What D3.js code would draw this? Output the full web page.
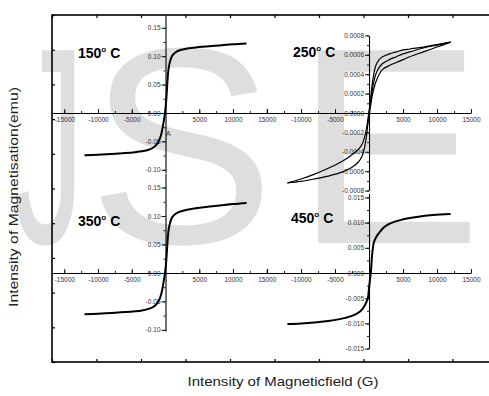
<!DOCTYPE html>
<html>
<head>
<meta charset="utf-8">
<script src="https://cdnjs.cloudflare.com/ajax/libs/d3/7.8.5/d3.min.js"></script>
<style>
  body { margin: 0; background: #fff; }
  svg { display: block; }
  text { font-family: "Liberation Sans", Arial, sans-serif; }
</style>
</head>
<body>
<div id="chart"></div>
<script>
const width = 489, height = 396;

// --- data (field in G, magnetisation in emu) ---
const field150 = [-12000,-10000,-8000,-6000,-4500,-3500,-2500,-1800,-1300,-900,-600,-350,-150,0,150,300,450,700,1000,1500,2200,3200,4500,6000,8000,10000,12000];
const mag150   = [-0.0745,-0.0735,-0.0722,-0.0706,-0.0690,-0.0675,-0.0648,-0.0608,-0.0555,-0.0470,-0.0360,-0.0210,-0.0060,0.0080,0.0300,0.0580,0.0780,0.0920,0.1010,0.1070,0.1110,0.1135,0.1155,0.1170,0.1190,0.1210,0.1225];

const field350 = field150;
const mag350   = [-0.0725,-0.0715,-0.0702,-0.0688,-0.0673,-0.0658,-0.0632,-0.0597,-0.0545,-0.0465,-0.0355,-0.0205,-0.0060,0.0070,0.0280,0.0550,0.0750,0.0890,0.0980,0.1040,0.1080,0.1110,0.1135,0.1160,0.1185,0.1210,0.1230];

const field250Down = [12000,10000,8000,6000,5000,4000,3000,2000,1500,1000,700,400,200,0,-200,-400,-700,-1000,-1500,-2500,-4000,-6000,-8000,-10000,-12000];
const mag250Down   = [0.00073,0.000705,0.00068,0.00066,0.00065,0.00063,0.00061,0.00058,0.00055,0.00049,0.00040,0.00026,0.00012,0.00002,-0.00008,-0.00017,-0.00026,-0.00032,-0.00037,-0.00043,-0.00050,-0.00057,-0.00063,-0.00068,-0.00072];
const field250Up   = [-12000,-10000,-8000,-6000,-4000,-2500,-1500,-1000,-700,-400,-200,0,200,400,700,1000,1500,2000,3000,4000,5000,6000,8000,10000,12000];
const mag250Up     = [-0.00072,-0.000705,-0.00068,-0.00065,-0.00061,-0.00056,-0.00050,-0.00044,-0.00037,-0.00025,-0.00013,-0.00003,0.00006,0.00015,0.00025,0.00032,0.00040,0.00045,0.00049,0.00052,0.00055,0.00058,0.00063,0.00068,0.00073];
const field250Virgin = [0,200,400,700,1000,1500,2000,3000,4000,5000,6000,8000,10000,12000];
const mag250Virgin   = [0,0.00008,0.0002,0.00032,0.0004,0.00047,0.00051,0.00055,0.00058,0.00061,0.00063,0.00067,0.0007,0.00073];

const field450 = [-12000,-10000,-8000,-6000,-4500,-3500,-2500,-1600,-1000,-700,-400,-150,0,150,300,450,700,1000,1450,2200,3200,4600,7000,9400,12000];
const mag450   = [-0.0101,-0.0100,-0.0098,-0.0095,-0.0092,-0.0089,-0.0085,-0.0079,-0.0072,-0.0066,-0.0058,-0.0048,-0.0030,-0.0012,0.0006,0.0035,0.0060,0.0070,0.0079,0.0091,0.0099,0.0105,0.0111,0.0115,0.0117];

// --- ticks ---
const fieldTicks = [-15000,-10000,-5000,5000,10000,15000];
const fieldMinor = [-15000,-12500,-10000,-7500,-5000,-2500,2500,5000,7500,10000,12500,15000];
const yTicks150 = [-0.10,-0.05,0.00,0.05,0.10,0.15];
const yMinor150 = [-0.10,-0.075,-0.05,-0.025,0,0.025,0.05,0.075,0.10,0.125,0.15];
const yTicks250 = [-0.0008,-0.0006,-0.0004,-0.0002,0,0.0002,0.0004,0.0006,0.0008];
const yMinor250 = d3.range(-8, 9).map(d => d * 0.0001);
const yTicks450 = [-0.015,-0.010,-0.005,0,0.005,0.010,0.015];
const yMinor450 = d3.range(-6, 7).map(d => d * 0.0025);

const loc = d3.formatLocale({ decimal: ".", thousands: ",", grouping: [3], currency: ["$", ""], minus: "-" });

const svg = d3.select('#chart').append('svg')
  .attr('width', width).attr('height', height);

// watermark
const wm = svg.append('g').attr('fill', '#dedede').attr('font-size', 280);
wm.append('text').attr('x', 13).attr('y', 243).attr('textLength', 72).attr('lengthAdjust', 'spacingAndGlyphs').text('J');
wm.append('text').attr('x', 88).attr('y', 243).text('S');
wm.append('text').attr('x', 295).attr('y', 243).text('E');

// outer frame
const fx = d3.scaleLinear().domain([0, 10]).range([52, 497]);
const fy = d3.scaleLinear().domain([0, 10]).range([362, 15]);
const frame = svg.append('g');
frame.append('rect').attr('x', fx(0)).attr('y', fy(10))
  .attr('width', fx(10) - fx(0)).attr('height', fy(0) - fy(10))
  .attr('fill', 'none').attr('stroke', '#000').attr('stroke-width', 1.6);
frame.append('g').attr('transform', `translate(0,${fy(0)})`)
  .call(d3.axisBottom(fx).ticks(10).tickSize(-3).tickFormat('').tickSizeOuter(0))
  .call(g => g.select('.domain').remove());
frame.append('g').attr('transform', `translate(0,${fy(10)})`)
  .call(d3.axisTop(fx).ticks(10).tickSize(-3).tickFormat('').tickSizeOuter(0))
  .call(g => g.select('.domain').remove());
frame.append('g').attr('transform', `translate(${fx(0)},0)`)
  .call(d3.axisLeft(fy).ticks(10).tickSize(-3).tickFormat('').tickSizeOuter(0))
  .call(g => g.select('.domain').remove());
frame.selectAll('.tick line').attr('stroke-width', 1.2);

const panels = [
  { label: '150', lx: 78, ly: 58,
    x: d3.scaleLinear().domain([-16800, 15300]).range([52.1, 268.8]),
    y: d3.scaleLinear().domain([-0.105, 0.172]).range([172.6, 15.3]),
    yTicks: yTicks150, yMinor: yMinor150, fmt: loc.format('.2f'), xHide: [],
    curves: [[field150, mag150]], sw: 2 },
  { label: '250', lx: 293, ly: 57,
    x: d3.scaleLinear().domain([-15300, 15000]).range([265, 471]),
    y: d3.scaleLinear().domain([-0.0008, 0.0008]).range([190.6, 35.4]),
    yTicks: yTicks250, yMinor: yMinor250, fmt: loc.format('.4f'), xHide: [-15000],
    curves: [[field250Down, mag250Down], [field250Up, mag250Up], [field250Virgin, mag250Virgin]], sw: 1.2 },
  { label: '350', lx: 78, ly: 226,
    x: d3.scaleLinear().domain([-16800, 15300]).range([52.1, 268.8]),
    y: d3.scaleLinear().domain([-0.102, 0.175]).range([331, 173.3]),
    yTicks: yTicks150, yMinor: yMinor150, fmt: loc.format('.2f'), xHide: [],
    curves: [[field350, mag350]], sw: 2 },
  { label: '450', lx: 291, ly: 223,
    x: d3.scaleLinear().domain([-15300, 15000]).range([265, 471]),
    y: d3.scaleLinear().domain([-0.015, 0.0158]).range([348.6, 193.4]),
    yTicks: yTicks450, yMinor: yMinor450, fmt: loc.format('.3f'), xHide: [-15000],
    curves: [[field450, mag450]], sw: 2 }
];

const line = d3.line()
  .x(d => d.x).y(d => d.y)
  .curve(d3.curveCatmullRom.alpha(0.5));

panels.forEach(p => {
  const g = svg.append('g');
  const x0 = p.x(0), y0 = p.y(0);

  // x axis (ticks point up, labels below)
  g.append('g').attr('transform', `translate(0,${y0})`)
    .call(d3.axisBottom(p.x).tickValues(fieldMinor).tickSize(-2).tickFormat('').tickSizeOuter(0));
  g.append('g').attr('transform', `translate(0,${y0})`)
    .call(d3.axisBottom(p.x).tickValues(fieldTicks).tickSize(-4).tickSizeOuter(0).tickPadding(4)
      .tickFormat(d => p.xHide.includes(d) ? '' : loc.format('d')(d)))
    .call(a => a.select('.domain').remove());

  // y axis
  g.append('g').attr('transform', `translate(${x0},0)`)
    .call(d3.axisLeft(p.y).tickValues(p.yMinor).tickSize(2).tickFormat('').tickSizeOuter(0));
  g.append('g').attr('transform', `translate(${x0},0)`)
    .call(d3.axisLeft(p.y).tickValues(p.yTicks).tickSize(4).tickSizeOuter(0).tickPadding(1).tickFormat(p.fmt))
    .call(a => a.select('.domain').remove());

  g.selectAll('.domain').attr('stroke', '#000').attr('stroke-width', 1.1);
  g.selectAll('.tick line').attr('stroke', '#000').attr('stroke-width', 0.9);
  g.selectAll('.tick text').attr('font-size', 6.5).attr('fill', '#333')
    .attr('font-family', '"Liberation Sans", Arial, sans-serif');

  p.curves.forEach(([hs, ms]) => {
    const pts = hs.map((h, i) => ({ x: p.x(h), y: p.y(ms[i]) }));
    g.append('path').attr('d', line(pts))
      .attr('fill', 'none').attr('stroke', '#000')
      .attr('stroke-width', p.sw).attr('stroke-linejoin', 'round');
  });

  const t = g.append('text').attr('x', p.lx).attr('y', p.ly)
    .attr('font-size', 14).attr('font-weight', 'bold').attr('fill', '#000');
  t.append('tspan').text(p.label);
  t.append('tspan').attr('font-size', 8).attr('dy', -6).text('o');
  t.append('tspan').attr('dy', 6).text(' C');
});

// small marker label in first panel
svg.append('text').attr('x', 166).attr('y', 136).attr('font-size', 7).attr('fill', '#333').text('A');

// axis titles
svg.append('text')
  .attr('transform', 'translate(18,197) rotate(-90)')
  .attr('text-anchor', 'middle').attr('font-size', 12.5).attr('fill', '#222')
  .attr('textLength', 220).attr('lengthAdjust', 'spacingAndGlyphs')
  .text('Intensity of Magnetisation(emu)');
svg.append('text')
  .attr('x', 283).attr('y', 386)
  .attr('text-anchor', 'middle').attr('font-size', 13).attr('fill', '#222')
  .attr('textLength', 191).attr('lengthAdjust', 'spacingAndGlyphs')
  .text('Intensity of Magneticfield (G)');
</script>
</body>
</html>
